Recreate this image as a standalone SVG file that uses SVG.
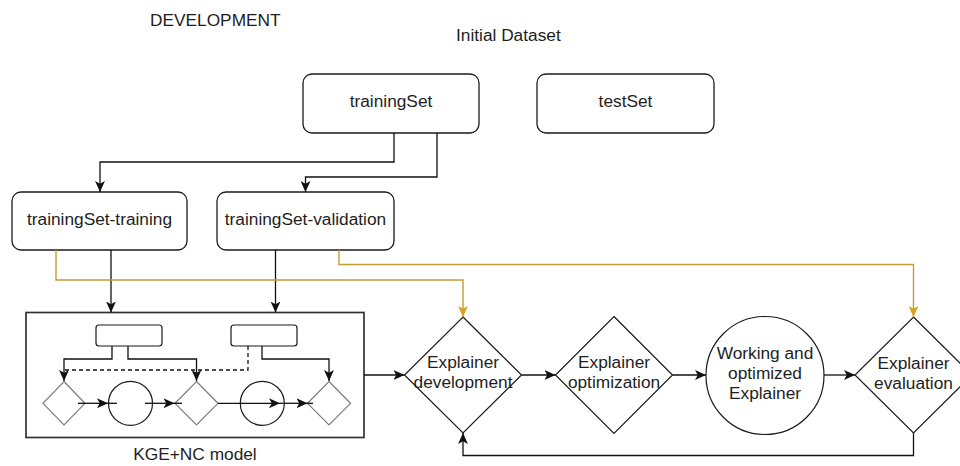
<svg xmlns="http://www.w3.org/2000/svg" width="960" height="466" viewBox="0 0 960 466">
<style>
text{font-family:"Liberation Sans",Arial,sans-serif;font-size:17.3px;fill:#1e1e1e;text-anchor:middle}
.box{fill:#fff;stroke:#1a1a1a;stroke-width:1.3}
.shape{fill:#fff;stroke:#1a1a1a;stroke-width:1.2}
.small{fill:#fff;stroke:#1a1a1a;stroke-width:1.2}
.gdia{fill:#fff;stroke:#7a7a7a;stroke-width:1.2}
.c{fill:none;stroke:#111;stroke-width:1.3}
.g{fill:none;stroke:#c49c36;stroke-width:1.4}
.d{fill:none;stroke:#111;stroke-width:1.3;stroke-dasharray:4 3}
</style>
<defs>
<marker id="a" viewBox="0 0 10 9" refX="10" refY="4.5" markerWidth="11" markerHeight="10" markerUnits="userSpaceOnUse" orient="auto">
<path d="M0,0 L10,4.5 L0,9 L2.5,4.5 z" fill="#111"/>
</marker>
<marker id="ag" viewBox="0 0 10 9" refX="10" refY="4.5" markerWidth="11" markerHeight="10" markerUnits="userSpaceOnUse" orient="auto">
<path d="M0,0 L10,4.5 L0,9 L2.5,4.5 z" fill="#d9a21b"/>
</marker>
</defs>
<rect width="960" height="466" fill="#fff"/>
<text x="150" y="26" style="text-anchor:start">DEVELOPMENT</text>
<text x="456" y="41" style="text-anchor:start">Initial Dataset</text>

<g id="trainingSet"><rect class="box" x="303" y="74" width="176" height="59" rx="9"/><text x="391" y="107">trainingSet</text></g>
<g id="testSet"><rect class="box" x="537" y="74" width="177" height="59" rx="9"/><text x="625.5" y="107">testSet</text></g>
<g id="trainingSet-training"><rect class="box" x="12" y="192" width="175" height="58" rx="9"/><text x="99.5" y="224.5">trainingSet-training</text></g>
<g id="trainingSet-validation"><rect class="box" x="217" y="192" width="177" height="58" rx="9"/><text x="305.5" y="224.5">trainingSet-validation</text></g>

<g id="kge-model">
<rect x="26" y="312.5" width="338" height="125" fill="#fff" stroke="#333" stroke-width="1.7"/>
<rect class="small" x="96" y="325" width="66" height="21" rx="3"/>
<rect class="small" x="231" y="325" width="66" height="21" rx="3"/>
<polygon class="gdia" points="64,381.5 85,403.3 64,425 43,403.3"/>
<polygon class="gdia" points="196.5,381.5 218,403.3 196.5,425 175,403.3"/>
<polygon class="gdia" points="329,381.5 350.5,403.3 329,425 307.5,403.3"/>
<circle class="shape" cx="130.5" cy="403.3" r="22"/>
<circle class="shape" cx="262.3" cy="403.3" r="22"/>
<path class="d" d="M248 346V370H64"/>
<path class="c" d="M112 346V359H64V381" marker-end="url(#a)"/>
<path class="c" d="M128 346V359H196.5V381" marker-end="url(#a)"/>
<path class="c" d="M262 346V359H329V381" marker-end="url(#a)"/>
<path class="c" d="M78 403.3H108" marker-end="url(#a)"/><path class="c" d="M108 403.3H117"/>
<path class="c" d="M145 403.3H174.5" marker-end="url(#a)"/><path class="c" d="M174 403.3H182"/>
<path class="c" d="M218 403.3H280" marker-end="url(#a)"/><path class="c" d="M280 403.3H307.5" marker-end="url(#a)"/><path class="c" d="M307 403.3H313"/>
<text x="195" y="460">KGE+NC model</text>
</g>

<g id="explainer-development"><polygon class="shape" points="463,317 521.5,375 463,433 404.5,375"/><text x="463" y="368">Explainer</text><text x="463" y="388">development</text></g>
<g id="explainer-optimization"><polygon class="shape" points="614,316.5 672.5,375 614,433.5 555.5,375"/><text x="614" y="368">Explainer</text><text x="614" y="388">optimization</text></g>
<g id="working-explainer"><circle class="shape" cx="765" cy="375.5" r="59"/><text x="765" y="359">Working and</text><text x="765" y="379">optimized</text><text x="765" y="399">Explainer</text></g>
<g id="explainer-evaluation"><polygon class="shape" points="913.5,317 972,375 913.5,433 855,375"/><text x="913.5" y="369">Explainer</text><text x="913.5" y="389">evaluation</text></g>

<g id="connectors">
<path class="c" d="M394 133V162H100V192" marker-end="url(#a)"/>
<path class="c" d="M437 133V177H305.5V192" marker-end="url(#a)"/>
<path class="c" d="M111 250V312.5" marker-end="url(#a)"/>
<path class="c" d="M275.5 250V312.5" marker-end="url(#a)"/>
<path class="g" d="M56 250V280H463V317" marker-end="url(#ag)"/>
<path class="g" d="M339 250V264.5H913.5V317" marker-end="url(#ag)"/>
<path class="c" d="M364 375H404.5" marker-end="url(#a)"/>
<path class="c" d="M521.5 375H555.5" marker-end="url(#a)"/>
<path class="c" d="M672.5 375H706" marker-end="url(#a)"/>
<path class="c" d="M824 375H855" marker-end="url(#a)"/>
<path class="c" d="M913.5 433V455.5H463V433" marker-end="url(#a)"/>
</g>
</svg>
